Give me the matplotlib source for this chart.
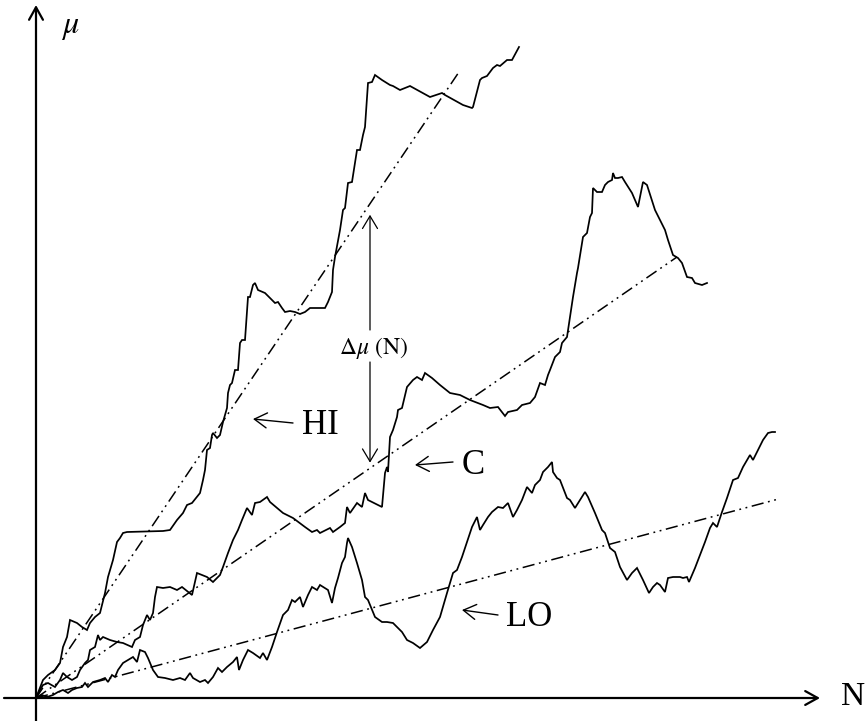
import matplotlib.pyplot as plt
import numpy as np

plt.rcParams['mathtext.fontset'] = 'stix'

# cumulative walks mu(N) for the three runs
hi_n = [0, 7, 12, 19, 24, 27, 31, 34, 41, 46, 51, 54, 59, 64, 69, 72, 77, 81, 84, 87,
        91, 127, 134, 141, 147, 151, 156, 164, 167, 169, 171, 174, 176, 177, 181, 184,
        187, 191, 192, 194, 196, 199, 202, 204, 206, 209, 212, 214, 217, 219, 222, 229,
        236, 239, 242, 246, 249, 254, 259, 264, 269, 274, 289, 292, 294, 296, 297, 299,
        304, 307, 309, 312, 316, 321, 324, 327, 329, 332, 336, 339, 346, 354, 357, 364,
        374, 394, 406, 409, 427, 436, 437, 444, 446, 451, 457, 461, 464, 471, 476, 483]
hi_mu = [0, 18, 23, 28, 35, 51, 61, 78, 75, 71, 68, 75, 81, 85, 105, 121, 138, 156, 160, 165,
         166, 167, 168, 178, 185, 193, 195, 205, 218, 228, 248, 250, 263, 265, 260, 263,
         276, 290, 305, 313, 315, 328, 328, 355, 358, 358, 401, 401, 413, 415, 408, 405,
         398, 395, 396, 390, 386, 387, 386, 384, 386, 390, 390, 396, 401, 406, 428, 441,
         468, 488, 490, 515, 516, 548, 548, 563, 571, 615, 616, 623, 618, 613, 612, 608,
         612, 601, 605, 603, 593, 590, 591, 618, 620, 622, 630, 633, 632, 638, 638, 651]

c_n = [0, 4, 7, 12, 19, 24, 27, 31, 36, 41, 44, 49, 52, 54, 59, 62, 64, 67, 74, 81, 87, 96,
       99, 104, 107, 111, 114, 117, 119, 121, 127, 134, 141, 146, 156, 159, 161, 166, 171,
       177, 184, 187, 192, 197, 202, 206, 211, 216, 219, 224, 231, 234, 247, 257, 269, 276,
       281, 284, 294, 297, 304, 309, 311, 314, 321, 326, 329, 332, 346, 349, 351, 352, 354,
       357, 361, 362, 366, 371, 377, 381, 386, 389, 396, 404, 414, 424, 434, 447, 454, 462,
       469, 472, 481, 486, 494, 499, 504, 509, 512, 514, 519, 524, 526, 531, 534, 537, 541,
       542, 546, 547, 551, 554, 556, 557, 561, 566, 569, 572, 576, 577, 579, 582, 586, 589,
       596, 602, 607, 611, 619, 624, 629, 632, 637, 642, 646, 651, 656, 659, 666, 671]
c_mu = [0, 8, 13, 15, 11, 18, 25, 21, 18, 21, 28, 35, 38, 48, 51, 63, 58, 61, 58, 56, 55, 51,
        58, 61, 73, 83, 78, 85, 101, 111, 110, 111, 108, 111, 103, 116, 125, 123, 121,
        116, 123, 131, 145, 158, 168, 178, 190, 183, 195, 196, 201, 196, 185, 180, 171, 166,
        168, 165, 170, 166, 171, 175, 191, 185, 195, 191, 205, 198, 191, 225, 231, 226, 261,
        268, 281, 288, 290, 311, 318, 321, 318, 325, 320, 313, 305, 303, 298, 293, 290, 291,
        282, 286, 288, 293, 295, 301, 315, 313, 323, 328, 341, 346, 355, 361, 381, 401, 425,
        430, 455, 461, 465, 481, 485, 510, 506, 506, 513, 516, 518, 525, 520, 520, 521, 516,
        505, 491, 516, 513, 488, 478, 468, 458, 443, 440, 435, 421, 420, 415, 413, 415]

lo_n = [0, 6, 11, 17, 22, 27, 32, 36, 41, 46, 49, 52, 57, 64, 69, 72, 76, 79, 82, 87, 92, 97,
        101, 104, 109, 112, 117, 122, 129, 137, 144, 149, 154, 157, 164, 169, 172, 177, 182,
        186, 191, 197, 201, 203, 207, 212, 217, 224, 227, 231, 236, 241, 247, 252, 256, 259,
        264, 267, 272, 276, 281, 284, 292, 296, 299, 302, 306, 309, 311, 312, 316, 321, 326,
        329, 332, 339, 346, 351, 357, 366, 371, 377, 384, 391, 397, 404, 411, 417, 421, 426,
        431, 436, 441, 444, 447, 452, 456, 462, 467, 472, 477, 481, 486, 491, 496, 499, 504,
        507, 512, 516, 517, 521, 524, 531, 534, 539, 544, 549, 552, 559, 566, 569, 574, 579,
        584, 591, 596, 601, 607, 613, 617, 621, 624, 629, 632, 637, 644, 647, 651, 653, 659,
        664, 669, 674, 677, 681, 686, 691, 697, 702, 707, 714, 717, 722, 727, 732, 736, 739]
lo_mu = [0, 3, 1, 3, 6, 8, 5, 8, 10, 11, 15, 11, 16, 18, 20, 16, 23, 21, 28, 35, 38, 41,
         36, 48, 46, 40, 28, 21, 20, 18, 20, 18, 25, 20, 16, 18, 15, 21, 30, 26, 31, 36,
         41, 28, 38, 48, 45, 40, 45, 38, 51, 66, 83, 88, 98, 96, 101, 91, 103, 111, 108,
         113, 108, 95, 110, 120, 135, 141, 155, 160, 151, 135, 118, 101, 98, 81, 76, 76, 75,
         66, 58, 55, 50, 56, 68, 81, 105, 125, 128, 141, 156, 171, 181, 168, 173, 181, 186,
         191, 190, 195, 181, 188, 198, 211, 205, 213, 218, 226, 231, 236, 226, 220, 218,
         200, 198, 190, 198, 206, 201, 185, 168, 165, 150, 146, 131, 118, 125, 130, 118,
         105, 111, 115, 113, 106, 120, 121, 121, 120, 121, 116, 130, 143, 156, 170, 175,
         171, 186, 200, 218, 220, 231, 243, 238, 248, 258, 265, 266, 266]

# linear mean growth of each run: slope and last N
trend_slope = {'HI': 1.48, 'C': 0.688, 'LO': 0.268}
trend_end = {'HI': 424, 'C': 641, 'LO': 742}

# where the spread between HI and C is marked
delta_n = 334

fig = plt.figure(figsize=(8.68, 7.21), dpi=100)
ax = fig.add_axes([0, 0, 1, 1])
ax.set_xlim(-36, 832)
ax.set_ylim(-23, 698)
ax.axis('off')

serif = 'Liberation Serif'
axis_arrow = dict(arrowstyle='->,head_length=0.45,head_width=0.25', lw=1.6,
                  color='black', mutation_scale=20, shrinkA=0, shrinkB=0)
ax.annotate('', xy=(0, 693), xytext=(0, -23), arrowprops=axis_arrow)
ax.annotate('', xy=(784, 0), xytext=(-32, 0), arrowprops=axis_arrow)
ax.text(34, 672, r'$\mu$', fontsize=23, ha='center', va='center')
ax.text(817, 1, 'N', family=serif, fontsize=24, ha='center', va='center')

for n, mu in [(hi_n, hi_mu), (c_n, c_mu), (lo_n, lo_mu)]:
    ax.plot(n, mu, color='black', lw=1.25, solid_joinstyle='miter')

for key in trend_slope:
    n_end = trend_end[key]
    ax.plot([0, n_end], [0, trend_slope[key] * n_end], color='black', lw=1.1,
            linestyle=(0, (8, 3, 1.2, 3, 1.2, 3)))

# double arrow for the spread Delta mu(N)
thin_arrow = dict(arrowstyle='->,head_length=0.5,head_width=0.3', lw=0.9,
                  color='black', mutation_scale=18, shrinkA=0)
ax.annotate('', xy=(delta_n, trend_slope['HI'] * delta_n), xytext=(delta_n, 368),
            arrowprops=dict(thin_arrow, shrinkB=8))
ax.annotate('', xy=(delta_n, trend_slope['C'] * delta_n), xytext=(delta_n, 336),
            arrowprops=dict(thin_arrow, shrinkB=-4))
ax.text(delta_n + 3, 350, r'$\Delta\mu\ (\mathrm{N})$', fontsize=17,
        ha='center', va='center')

# run labels with pointers
labels = [('HI', (217, 279), (257, 275), (266, 273)),
          ('C', (379, 233), (417, 236), (426, 233)),
          ('LO', (426, 88), (462, 83), (470, 81))]
for name, tip, tail, pos in labels:
    ax.annotate('', xy=tip, xytext=tail,
                arrowprops=dict(arrowstyle='->,head_length=0.5,head_width=0.3',
                                lw=1.0, color='black', mutation_scale=18,
                                shrinkA=0, shrinkB=0))
    ax.text(pos[0], pos[1], name, family=serif, fontsize=25, ha='left', va='center')

fig.savefig('out.png', dpi=100)
